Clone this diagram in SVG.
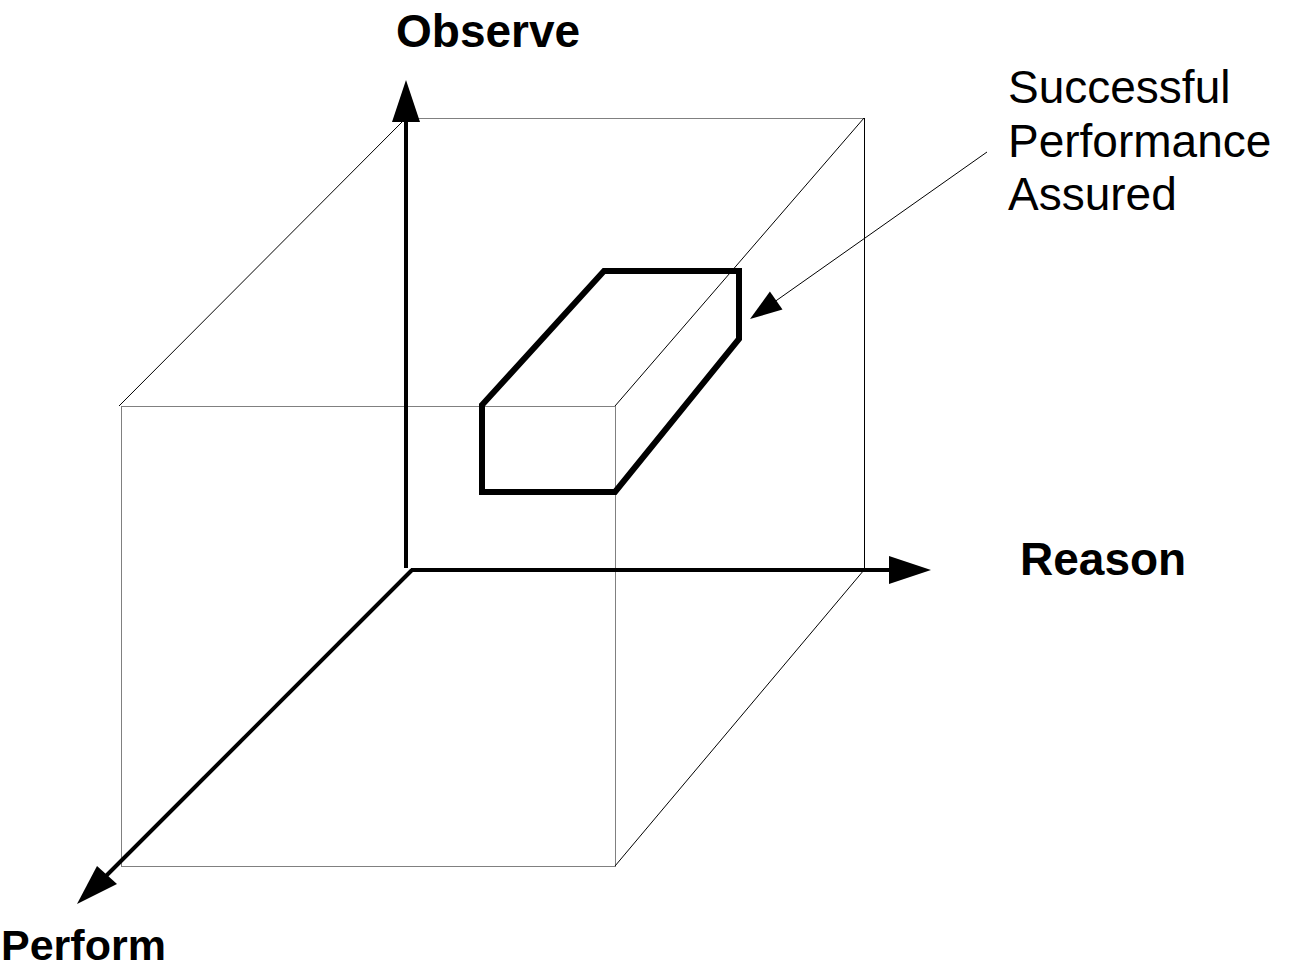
<svg xmlns="http://www.w3.org/2000/svg" width="1290" height="973" viewBox="0 0 1290 973">
<style>
.thin{fill:none;stroke:#000;stroke-width:1}
.grey{fill:none;stroke:#808080;stroke-width:1}
.axis{fill:none;stroke:#000;stroke-width:4}
.head{fill:#000;stroke:none}
.lbl{font-family:"Liberation Sans",Arial,sans-serif;font-size:46px;fill:#000}
.bold{font-weight:bold}
</style>
<rect width="1290" height="973" fill="#fff"/>
<g id="cube">
<rect class="grey" x="121.5" y="406.5" width="494" height="460"/>
<line class="grey" x1="406" y1="118.5" x2="864" y2="118.5"/>
<line class="thin" x1="864.5" y1="118" x2="864.5" y2="570"/>
<line class="thin" x1="119" y1="406" x2="406" y2="118"/>
<line class="thin" x1="615" y1="406" x2="864" y2="118"/>
<line class="thin" x1="615" y1="866" x2="864" y2="570"/>
</g>
<g id="region">
<polygon points="482,405 604,271 739,271 739,339 615,492 482,492" fill="none" stroke="#000" stroke-width="6" stroke-linejoin="miter"/>
</g>
<g id="connectors">
<line class="axis" x1="406" y1="568" x2="406" y2="118"/>
<polygon class="head" points="406,80 420,122 392,122"/>
<line class="axis" x1="411" y1="570" x2="892" y2="570"/>
<polygon class="head" points="931,570 889,584 889,556"/>
<line class="axis" x1="412" y1="570" x2="105" y2="877"/>
<polygon class="head" points="77,904 97,866 117,884"/>
<line class="thin" x1="987" y1="152" x2="770" y2="305"/>
<polygon class="head" points="750,319 769.9,291.6 782.5,309.6"/>
</g>
<g id="label-observe"><text class="lbl bold" x="396" y="47">Observe</text></g>
<g id="label-reason"><text class="lbl bold" x="1020" y="575">Reason</text></g>
<g id="label-perform"><text class="lbl bold" x="1" y="960" style="font-size:43px">Perform</text></g>
<g id="label-success">
<text class="lbl" x="1008" y="103">Successful</text>
<text class="lbl" x="1008" y="157">Performance</text>
<text class="lbl" x="1008" y="210">Assured</text>
</g>
</svg>
